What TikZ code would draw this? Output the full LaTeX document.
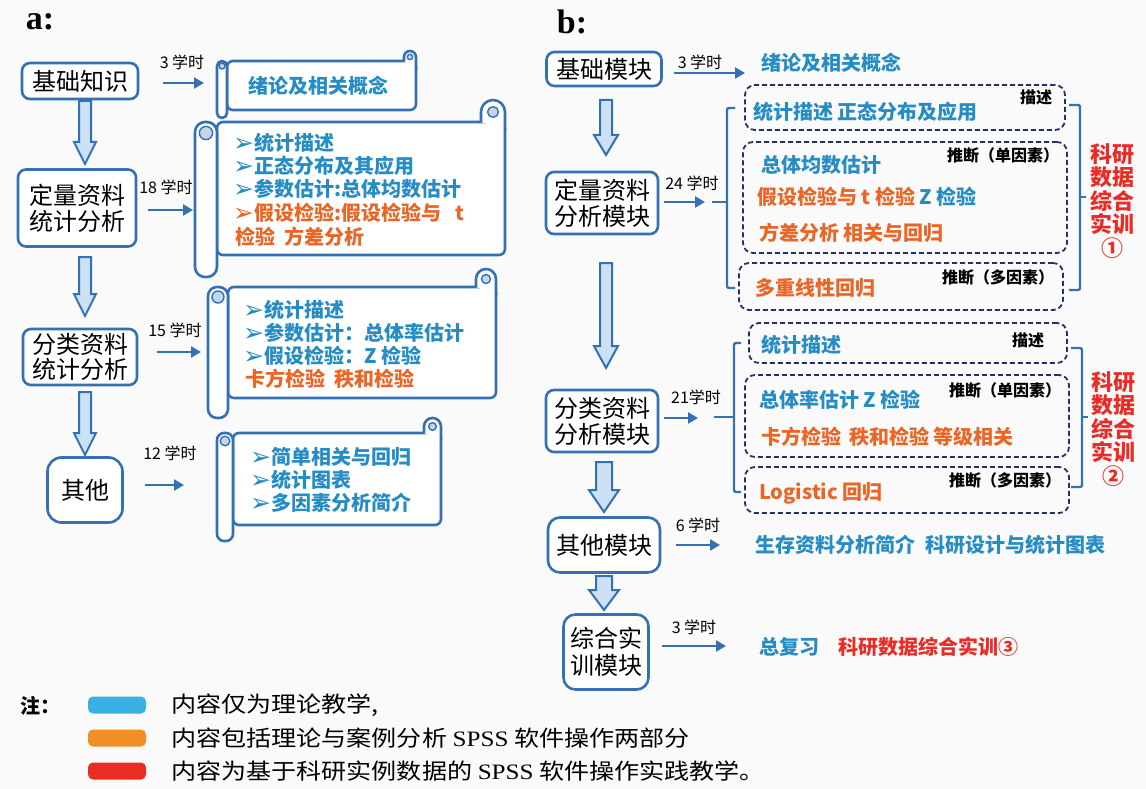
\documentclass[tikz,border=0pt]{standalone}
\usepackage{fontspec}
\usepackage{graphicx}
\setmainfont{Noto Sans CJK SC}
\newfontfamily\symf{DejaVu Sans}
\newfontfamily\serf{Liberation Serif}
\usetikzlibrary{arrows.meta,calc}
\definecolor{bg}{RGB}{250,250,250}
\definecolor{boxblue}{RGB}{52,112,180}
\definecolor{tblue}{RGB}{38,140,196}
\definecolor{torange}{RGB}{234,102,38}
\definecolor{tred}{RGB}{234,44,38}
\definecolor{navy}{RGB}{38,48,108}
\definecolor{afill}{RGB}{205,225,244}
\definecolor{spiral}{RGB}{200,212,232}
\definecolor{swblue}{RGB}{58,176,228}
\definecolor{sworange}{RGB}{242,142,38}
\definecolor{swred}{RGB}{234,44,34}
\newcommand\arrsym{\smash{\raisebox{-1pt}{\symf\bfseries\fontsize{25}{25}\selectfont ➢}}}
\newcommand\fsz[1]{\fontsize{#1}{#1}\selectfont}
% block arrow between two named coordinates
\newcommand\blockarr[5]{%
  \draw[barrow] let \p1=(#1), \p2=(#2) in
  (\x1-#3,\y1) -- (\x1+#3,\y1) -- (\x1+#3,\y2+#5) -- (\x1+#4,\y2+#5) -- (\x1,\y2)
  -- (\x1-#4,\y2+#5) -- (\x1-#3,\y2+#5) -- cycle;}
% scroll: #1 xa, #2 xb, #3 xR, #4 yT, #5 yB, #6 yC, #7 curl r, #8 capsule corner
\newcommand\scrollshape[8]{%
  \draw[scrl, rounded corners=6pt] (#2,#4) -- (#3,#4) -- (#3,#5) -- (#2,#5) -- cycle;
  \draw[scrl] (#3,{#4+8}) -- (#3,{#4-#7+2}) arc[start angle=0,end angle=180,radius=#7pt] -- ({#3-2*#7},#4);
  \filldraw[draw=boxblue, line width=1.4pt, fill=spiral] ({#3-#7},{#4-#7+2}) circle[radius={0.45*#7pt}];
  \draw[scrl, rounded corners=#8pt] (#1,#4) rectangle (#2,#6);
  \filldraw[draw=boxblue, line width=1.4pt, fill=spiral] ({(#1+#2)/2},{#4+(#2-#1)/2}) circle[radius={0.3*(#2-#1)*1pt}];
}
\newcommand\lgdtext[1]{\scalebox{1.14}[1]{#1}}
\begin{document}
\begin{tikzpicture}[x=1pt,y=-1pt,
  box/.style={draw=boxblue, line width=2.6pt, rounded corners=8pt, fill=white, inner sep=0pt, align=center, text=black},
  barrow/.style={draw=boxblue, line width=2pt, fill=afill, line join=miter},
  tarrow/.style={draw=boxblue, line width=2.6pt, -{Triangle[length=10pt,width=11pt]}},
  hrs/.style={font=\fsz{16}, inner sep=0pt, text=black},
  tx/.style={anchor=west, inner sep=0pt, font=\bfseries\fsz{20}},
  lbl/.style={inner sep=0pt, font=\bfseries\fsz{16}, text=black},
  dbox/.style={draw=navy, line width=1.8pt, dash pattern=on 5pt off 3pt, rounded corners=10pt, inner sep=0pt},
  brk/.style={draw=boxblue, line width=2.4pt, rounded corners=2pt},
  scrl/.style={draw=boxblue, line width=2.6pt, fill=white, line join=round},
  redcol/.style={align=center, text=tred, font=\bfseries\fontsize{22}{23.5}\selectfont, inner sep=0pt},
  lgd/.style={anchor=west, inner sep=0pt, font=\fsz{22}, text=black},
  sw/.style={rounded corners=5pt, minimum width=58pt, minimum height=17pt, inner sep=0pt},
]
\fill[bg] (0,0) rectangle (1146,789);
\useasboundingbox (0,0) rectangle (1146,789);

% ================= panel a =================
\node[font=\serf\bfseries\fsz{34}, inner sep=0pt] (ta) at (40,22) {a:};

\node[box, font=\fsz{24}, minimum width=116pt, minimum height=36pt] (b1) at (80,81) {基础知识};
\node[box, font=\fontsize{24}{26}\selectfont, minimum width=118pt, minimum height=77pt] (b2) at (77,208) {定量资料\\统计分析};
\node[box, font=\fontsize{24}{25}\selectfont, minimum width=114pt, minimum height=56pt] (b3) at (80,357) {分类资料\\统计分析};
\node[box, font=\fsz{24}, rounded corners=14pt, minimum width=75pt, minimum height=65pt] (b4) at (85,490) {其他};

\coordinate (la1s) at (85,101); \coordinate (la1e) at (85,164);
\coordinate (la2s) at (85,257); \coordinate (la2e) at (85,316);
\coordinate (la3s) at (85,392); \coordinate (la3e) at (85,455);
\blockarr{la1s}{la1e}{6pt}{11pt}{22pt}
\blockarr{la2s}{la2e}{6pt}{11pt}{22pt}
\blockarr{la3s}{la3e}{6pt}{11pt}{22pt}

% scrolls
\scrollshape{217}{227}{416}{61}{110}{118}{6}{5}
\scrollshape{195}{217}{505}{122}{255}{277}{12}{10}
\scrollshape{208}{228}{496}{287}{398}{418}{10}{9}
\scrollshape{217}{233}{441}{433}{525}{541}{8.5}{7}

% hours and arrows
\node[hrs] (h1) at (182,62) {3 学时};
\coordinate (a1s) at (163,83); \coordinate (a1e) at (204,83);
\draw[tarrow] (a1s) -- (a1e);
\node[hrs] (h2) at (166,187) {18 学时};
\coordinate (a2s) at (148,210); \coordinate (a2e) at (193,210);
\draw[tarrow] (a2s) -- (a2e);
\node[hrs] (h3) at (175,330) {15 学时};
\coordinate (a3s) at (157,352); \coordinate (a3e) at (201,352);
\draw[tarrow] (a3s) -- (a3e);
\node[hrs] (h4) at (170,453) {12 学时};
\coordinate (a4s) at (145,485); \coordinate (a4e) at (184,485);
\draw[tarrow] (a4s) -- (a4e);

% scroll texts
\node[inner sep=0pt, font=\bfseries\fsz{20}, text=tblue] (s1) at (318,86) {绪论及相关概念};

\node[tx, text=tblue] (s2a) at (233,143) {\arrsym 统计描述};
\node[tx, text=tblue] (s2b) at (233,166) {\arrsym 正态分布及其应用};
\node[tx, text=tblue] (s2c) at (233,189) {\arrsym 参数估计:总体均数估计};
\node[tx, text=torange] (s2d) at (233,213) {\arrsym 假设检验:假设检验与\hspace{14pt}t};
\node[tx, text=torange] (s2e) at (235,237) {检验\hspace{9pt}方差分析};

\node[tx, text=tblue] (s3a) at (243,310) {\arrsym 统计描述};
\node[tx, text=tblue] (s3b) at (243,333) {\arrsym 参数估计：总体率估计};
\node[tx, text=tblue] (s3c) at (243,356) {\arrsym 假设检验：Z 检验};
\node[tx, text=torange] (s3d) at (245,379) {卡方检验\hspace{9pt}秩和检验};

\node[tx, text=tblue] (s4a) at (250,457) {\arrsym 简单相关与回归};
\node[tx, text=tblue] (s4b) at (250,480) {\arrsym 统计图表};
\node[tx, text=tblue] (s4c) at (250,503) {\arrsym 多因素分析简介};

% ================= panel b =================
\node[font=\serf\bfseries\fsz{34}, inner sep=0pt] (tb) at (572,22) {b:};

\node[box, font=\fsz{24}, minimum width=115pt, minimum height=34pt] (r1) at (604,69) {基础模块};
\node[box, font=\fontsize{24}{26}\selectfont, minimum width=112pt, minimum height=62pt] (r2) at (602,203) {定量资料\\分析模块};
\node[box, font=\fontsize{24}{26}\selectfont, minimum width=112pt, minimum height=62pt] (r3) at (602,421) {分类资料\\分析模块};
\node[box, font=\fsz{24}, rounded corners=12pt, minimum width=112pt, minimum height=55pt] (r4) at (604,545) {其他模块};
\node[box, font=\fontsize{24}{27}\selectfont, rounded corners=12pt, minimum width=85pt, minimum height=75pt] (r5) at (606,652) {综合实\\训模块};

\coordinate (ra1s) at (606,100); \coordinate (ra1e) at (606,155);
\coordinate (ra2s) at (606,263); \coordinate (ra2e) at (606,368);
\coordinate (ra3s) at (604,462); \coordinate (ra3e) at (604,512);
\coordinate (ra4s) at (604,576); \coordinate (ra4e) at (604,610);
\blockarr{ra1s}{ra1e}{6pt}{12pt}{20pt}
\blockarr{ra2s}{ra2e}{6pt}{12pt}{22pt}
\blockarr{ra3s}{ra3e}{8pt}{15pt}{22pt}
\blockarr{ra4s}{ra4e}{8pt}{15pt}{20pt}

% hours + arrows
\node[hrs] (g1) at (700,62) {3 学时};
\coordinate (c1s) at (674,73); \coordinate (c1e) at (745,73);
\draw[tarrow] (c1s) -- (c1e);
\node[hrs] (g2) at (692,183) {24 学时};
\coordinate (c2s) at (664,202); \coordinate (c2e) at (705,202);
\draw[tarrow] (c2s) -- (c2e);
\node[hrs] (g3) at (696,397) {21学时};
\coordinate (c3s) at (664,418); \coordinate (c3e) at (698,418);
\draw[tarrow] (c3s) -- (c3e);
\node[hrs] (g4) at (698,525) {6 学时};
\coordinate (c4s) at (676,545); \coordinate (c4e) at (720,545);
\draw[tarrow] (c4s) -- (c4e);
\node[hrs] (g5) at (694,627) {3 学时};
\coordinate (c5s) at (662,646); \coordinate (c5e) at (726,646);
\draw[tarrow] (c5s) -- (c5e);

\node[tx, text=tblue] (t0) at (761,63) {绪论及相关概念};

% brackets
\draw[brk] (735,108) -- (727,108) -- (727,288) -- (735,288);
\draw[brk] (712,202) -- (727,202);
\draw[brk] (1069,105) -- (1080,105) -- (1080,290) -- (1069,290);
\draw[brk] (1080,197) -- (1086,197);
\draw[brk] (741,343) -- (734,343) -- (734,492) -- (741,492);
\draw[brk] (714,417) -- (734,417);
\draw[brk] (1071,348) -- (1082,348) -- (1082,487) -- (1071,487);
\draw[brk] (1082,417) -- (1088,417);

% dashed boxes
\node[dbox, minimum width=320pt, minimum height=45pt] (d1) at (905,107.5) {};
\node[dbox, minimum width=324pt, minimum height=111pt] (d2) at (905,197.5) {};
\node[dbox, minimum width=324pt, minimum height=47pt] (d3) at (901,286.5) {};
\node[dbox, minimum width=318pt, minimum height=40pt] (d4) at (908,343) {};
\node[dbox, minimum width=324pt, minimum height=82pt] (d5) at (907,416) {};
\node[dbox, minimum width=324pt, minimum height=46pt] (d6) at (907,490) {};

\node[lbl] (l1) at (1036,97) {描述};
\node[lbl] (l2) at (1003,155) {推断（单因素）};
\node[lbl] (l3) at (998,277) {推断（多因素）};
\node[lbl] (l4) at (1028,340) {描述};
\node[lbl] (l5) at (1005,390) {推断（单因素）};
\node[lbl] (l6) at (1005,480) {推断（多因素）};

\node[tx, text=tblue] (t1) at (753,112) {统计描述 正态分布及应用};
\node[tx, text=tblue] (t2) at (761,165) {总体均数估计};
\node[tx, text=torange] (t3) at (757,197) {假设检验与 t 检验 \textcolor{tblue}{Z 检验}};
\node[tx, text=torange] (t4) at (759,233) {方差分析 相关与回归};
\node[tx, text=torange] (t5) at (755,288) {多重线性回归};
\node[tx, text=tblue] (t6) at (761,345) {统计描述};
\node[tx, text=tblue] (t7) at (759,400) {总体率估计 Z 检验};
\node[tx, text=torange] (t8) at (761,437) {卡方检验\hspace{8pt}秩和检验 等级相关};
\node[tx, text=torange] (t9) at (759,493) {Logistic 回归};
\node[tx, text=tblue] (t10) at (755,545) {生存资料分析简介\hspace{10pt}科研设计与统计图表};
\node[tx, text=tblue] (t11) at (759,647) {总复习};
\node[tx, text=tred] (t12) at (838,647) {科研数据综合实训③};

\node[redcol] (k1) at (1112,201) {科研\\数据\\综合\\实训\\①};
\node[redcol] (k2) at (1113,429) {科研\\数据\\综合\\实训\\②};

% ================= legend =================
\node[anchor=west, inner sep=0pt, font=\bfseries\fsz{20}] (zhu) at (20,706) {注：};
\node[sw, fill=swblue] (sw1) at (117,705) {};
\node[sw, fill=sworange] (sw2) at (117,738) {};
\node[sw, fill=swred] (sw3) at (117,771) {};
\node[lgd] (lg1) at (171,705) {\lgdtext{内容仅为理论教学,}};
\node[lgd] (lg2) at (171,738) {\lgdtext{内容包括理论与案例分析 {\serf SPSS} 软件操作两部分}};
\node[lgd] (lg3) at (171,771) {\lgdtext{内容为基于科研实例数据的 {\serf SPSS} 软件操作实践教学。}};
\end{tikzpicture}
\end{document}
